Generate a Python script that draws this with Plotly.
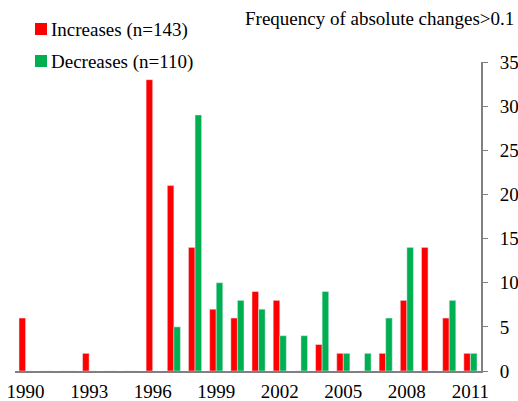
import plotly.graph_objects as go

years = [str(y) for y in range(1990, 2012)]
increases = [6, 0, 0, 2, 0, 0, 33, 21, 14, 7, 6, 9, 8, 0, 3, 2, 0, 2, 8, 14, 6, 2]
decreases = [0, 0, 0, 0, 0, 0, 0, 5, 29, 10, 8, 7, 4, 4, 9, 2, 2, 6, 14, 0, 8, 2]
tick_years = [str(y) for y in range(1990, 2012, 3)]
y_ticks = list(range(0, 40, 5))
series = [
    ("Increases (n=143)", increases, "#ff0000"),
    ("Decreases (n=110)", decreases, "#00b050"),
]

serif = "Liberation Serif"
fsize = 19

fig = go.Figure()
for name, vals, color in series:
    fig.add_trace(go.Bar(x=years, y=vals, name=name, marker_color=color))

# Compact legend drawn as swatches plus labels in the upper-left corner
shapes = []
annotations = []
for i, (name, _, color) in enumerate(series):
    top = 39 - 32 * i
    shapes.append(dict(type="rect", xref="paper", yref="paper",
                       xsizemode="pixel", ysizemode="pixel",
                       xanchor=0, yanchor=1, x0=20, x1=32,
                       y0=top - 12, y1=top, fillcolor=color,
                       line=dict(width=0)))
    annotations.append(dict(text=name, x=0, y=1, xref="paper", yref="paper",
                            xanchor="left", yanchor="middle",
                            xshift=34, yshift=top - 7, showarrow=False,
                            font=dict(family=serif, size=fsize)))

annotations.append(dict(text="Frequency of absolute changes>0.1", x=1.0,
                        y=1.0, xref="paper", yref="paper", xanchor="right",
                        yanchor="middle", showarrow=False, yshift=44,
                        xshift=35, font=dict(family=serif, size=fsize)))

fig.update_layout(
    width=518, height=401,
    margin=dict(l=15, r=37, t=62, b=30, autoexpand=False),
    plot_bgcolor="white", paper_bgcolor="white",
    barmode="group", bargap=0.38, bargroupgap=0,
    font=dict(family=serif, size=fsize, color="black"),
    showlegend=False,
    xaxis=dict(type="category", tickmode="array", tickvals=tick_years,
               ticktext=tick_years, showline=True, linecolor="#808080",
               linewidth=2, ticks="", showgrid=False, zeroline=False,
               ticklabelstandoff=2),
    yaxis=dict(side="right", range=[0, 35], tickvals=y_ticks, showline=True,
               linecolor="#808080", linewidth=2, ticks="outside", ticklen=5,
               tickcolor="#808080", showgrid=False, zeroline=False,
               ticklabelstandoff=8),
    shapes=shapes,
    annotations=annotations,
)

fig.write_html("out.html")
